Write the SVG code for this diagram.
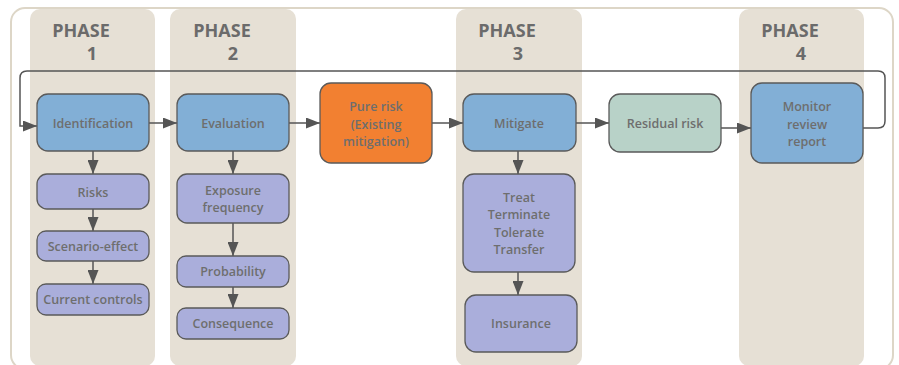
<svg xmlns="http://www.w3.org/2000/svg" width="899" height="365" viewBox="0 0 899 365">
<style>
.col{fill:#e6e0d5}
.ph{font-family:"Open Sans","Noto Sans",sans-serif;font-weight:bold;font-size:18px;fill:#6b6b6b;text-anchor:middle}
.n{stroke:#5a5a5a;stroke-width:1.3}
.blue{fill:#82afd6}
.lav{fill:#aaaedb}
.org{fill:#f28031}
.grn{fill:#b8d2c8}
.t{font-family:"Open Sans","Noto Sans",sans-serif;font-weight:600;font-size:12.5px;fill:#6e6e6e;text-anchor:middle}
.c{stroke:#555;stroke-width:1.5;fill:none}
</style>
<defs>
<marker id="ah" markerWidth="14" markerHeight="11" refX="14" refY="5.5" orient="auto" markerUnits="userSpaceOnUse">
<path d="M0,0 L14,5.5 L0,11 Z" fill="#555"/>
</marker>
</defs>
<rect x="11" y="8" width="882" height="361" rx="14" fill="#fff" stroke="#ddd6c7" stroke-width="2"/>
<g id="phase1"><rect class="col" x="30" y="9" width="125" height="357" rx="10"/><text class="ph" x="81" y="37">PHASE</text><text class="ph" x="92" y="60">1</text></g>
<g id="phase2"><rect class="col" x="170" y="9" width="126" height="357" rx="10"/><text class="ph" x="222" y="37">PHASE</text><text class="ph" x="233" y="60">2</text></g>
<g id="phase3"><rect class="col" x="456" y="9" width="126" height="357" rx="10"/><text class="ph" x="507" y="37">PHASE</text><text class="ph" x="518" y="60">3</text></g>
<g id="phase4"><rect class="col" x="739" y="9" width="125" height="357" rx="10"/><text class="ph" x="790" y="37">PHASE</text><text class="ph" x="801" y="60">4</text></g>
<g id="connectors">
<path class="c" d="M863,128 H878 Q885,128 885,121 V78 Q885,71 878,71 H27 Q20,71 20,78 V126 H37" marker-end="url(#ah)"/>
<line class="c" x1="149" y1="123" x2="177" y2="123" marker-end="url(#ah)"/>
<line class="c" x1="289" y1="123" x2="320" y2="123" marker-end="url(#ah)"/>
<line class="c" x1="432" y1="123" x2="463" y2="123" marker-end="url(#ah)"/>
<line class="c" x1="576" y1="123" x2="609" y2="123" marker-end="url(#ah)"/>
<line class="c" x1="721" y1="128" x2="751" y2="128" marker-end="url(#ah)"/>
<line class="c" x1="93" y1="151" x2="93" y2="174" marker-end="url(#ah)"/>
<line class="c" x1="93" y1="209" x2="93" y2="231" marker-end="url(#ah)"/>
<line class="c" x1="93" y1="261" x2="93" y2="284" marker-end="url(#ah)"/>
<line class="c" x1="233" y1="151" x2="233" y2="174" marker-end="url(#ah)"/>
<line class="c" x1="233" y1="223" x2="233" y2="256" marker-end="url(#ah)"/>
<line class="c" x1="233" y1="287" x2="233" y2="308" marker-end="url(#ah)"/>
<line class="c" x1="518" y1="151" x2="518" y2="174" marker-end="url(#ah)"/>
<line class="c" x1="518" y1="272" x2="518" y2="295" marker-end="url(#ah)"/>
</g>
<g id="identification"><rect class="n blue" x="37" y="94" width="112" height="57" rx="11"/><text class="t" x="93" y="128">Identification</text></g>
<g id="evaluation"><rect class="n blue" x="177" y="94" width="112" height="57" rx="11"/><text class="t" x="233" y="128">Evaluation</text></g>
<g id="pure-risk"><rect class="n org" x="320" y="83" width="112" height="80" rx="11"/><text class="t" x="376" y="111">Pure risk</text><text class="t" x="376" y="129">(Existing</text><text class="t" x="376" y="146">mitigation)</text></g>
<g id="mitigate"><rect class="n blue" x="463" y="94" width="113" height="57" rx="11"/><text class="t" x="519" y="128">Mitigate</text></g>
<g id="residual-risk"><rect class="n grn" x="609" y="94" width="112" height="58" rx="11"/><text class="t" x="665" y="128">Residual risk</text></g>
<g id="monitor"><rect class="n blue" x="751" y="83" width="112" height="80" rx="11"/><text class="t" x="807" y="111">Monitor</text><text class="t" x="807" y="129">review</text><text class="t" x="807" y="146">report</text></g>
<g id="risks"><rect class="n lav" x="37" y="174" width="112" height="35" rx="10"/><text class="t" x="93" y="197">Risks</text></g>
<g id="scenario-effect"><rect class="n lav" x="37" y="231" width="112" height="30" rx="9"/><text class="t" x="93" y="251">Scenario-effect</text></g>
<g id="current-controls"><rect class="n lav" x="37" y="284" width="112" height="31" rx="9"/><text class="t" x="93" y="304">Current controls</text></g>
<g id="exposure"><rect class="n lav" x="177" y="174" width="112" height="49" rx="10"/><text class="t" x="233" y="195">Exposure</text><text class="t" x="233" y="212">frequency</text></g>
<g id="probability"><rect class="n lav" x="177" y="256" width="112" height="31" rx="9"/><text class="t" x="233" y="276">Probability</text></g>
<g id="consequence"><rect class="n lav" x="177" y="308" width="112" height="31" rx="9"/><text class="t" x="233" y="328">Consequence</text></g>
<g id="treat"><rect class="n lav" x="463" y="174" width="112" height="98" rx="11"/><text class="t" x="519" y="202">Treat</text><text class="t" x="519" y="219">Terminate</text><text class="t" x="519" y="237">Tolerate</text><text class="t" x="519" y="254">Transfer</text></g>
<g id="insurance"><rect class="n lav" x="465" y="295" width="112" height="57" rx="11"/><text class="t" x="521" y="328">Insurance</text></g>
</svg>
